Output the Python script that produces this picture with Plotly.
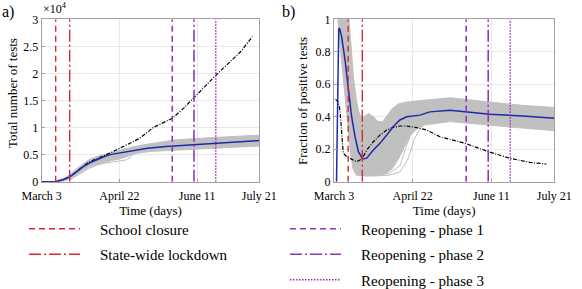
import plotly.graph_objects as go

# ---------------- data (days since March 3) ----------------
tick_days = [0, 50, 100, 140]
tick_labels = ["March 3", "April 22", "June 11", "July 21"]

events = ["School closure", "State-wide lockdown",
          "Reopening - phase 1", "Reopening - phase 2", "Reopening - phase 3"]
event_days = [9, 18, 84, 98, 112]

# Panel a: total number of tests
a_mean_days = [0, 9, 14, 18, 22.6, 26.8, 31, 35.5, 40, 44, 50, 57, 68, 80, 90, 100, 120, 140]
a_mean_vals = [0, 10, 400, 900, 1850, 2800, 3500, 4100, 4600, 5000, 5300, 5700, 6200, 6500, 6700, 6900, 7200, 7600]

a_data_days = [0, 9, 14, 18, 22.6, 26.8, 31, 35.5, 40, 44, 50.5, 57, 63, 72, 78, 84, 91.4, 97.8, 105.4, 112.5, 119.4, 128, 135.5]
a_data_vals = [0, 20, 350, 900, 1900, 2900, 3700, 4200, 4800, 5300, 6200, 7100, 8000, 10050, 10900, 11700, 13600, 15400, 17700, 19800, 21600, 24000, 26800]

a_band_up_days = [0, 8, 14, 18, 22, 26, 30, 35, 40, 45, 55, 65, 75, 85, 100, 120, 140]
a_band_up_vals = [0, 50, 600, 1300, 2300, 3200, 4000, 4600, 5000, 5400, 6200, 6800, 7300, 7700, 8000, 8300, 8600]
a_band_lo_days = [0, 14, 18, 22, 26, 30, 35, 40, 45, 52, 60, 70, 85, 100, 120, 140]
a_band_lo_vals = [0, 100, 500, 1200, 2000, 2700, 3200, 3600, 4000, 4400, 5200, 5600, 5900, 6100, 6300, 6600]

a_low_runs_days = [[18, 25, 30, 35, 40, 45, 50, 54, 58],
                   [18, 25, 30, 35, 40, 45, 50, 55, 60]]
a_low_runs_vals = [[300, 1500, 2400, 3000, 3400, 3600, 3800, 4000, 4600],
                   [400, 1700, 2600, 3200, 3600, 3900, 4200, 4600, 5100]]

# Panel b: fraction of positive tests
b_mean_days = [1.6, 2.3, 3.0, 3.5, 4.9, 7.0, 9.1, 11.2, 13.3, 15.5, 18.2, 20.8, 25, 29.2, 33.5, 37.7, 41.9, 46.2, 54.6, 61, 73.7, 85, 99, 120, 140]
b_mean_vals = [0.0, 0.60, 0.94, 0.945, 0.89, 0.75, 0.56, 0.40, 0.28, 0.185, 0.14, 0.145, 0.195, 0.236, 0.287, 0.34, 0.38, 0.40, 0.41, 0.43, 0.44, 0.43, 0.415, 0.405, 0.39]

b_data_days = [1.0, 2.8, 3.8, 4.9, 5.9, 8, 10.2, 12.3, 14.4, 16.5, 18.6, 20.8, 25, 29.2, 33.5, 37.7, 41.9, 46.2, 52.5, 58.9, 67.3, 83.5, 98, 111.8, 124.5, 135]
b_data_vals = [0.507, 0.49, 0.44, 0.28, 0.175, 0.155, 0.145, 0.133, 0.123, 0.133, 0.155, 0.195, 0.246, 0.287, 0.318, 0.335, 0.343, 0.343, 0.333, 0.318, 0.277, 0.236, 0.185, 0.144, 0.119, 0.109]

b_band_up_days = [2.5, 9.5, 10.5, 11.5, 12.5, 14, 15.5, 17, 19, 22, 25, 28, 31, 34, 37, 41, 46, 55, 74, 99, 120, 140]
b_band_up_vals = [1.0, 1.0, 0.88, 0.75, 0.63, 0.52, 0.44, 0.40, 0.40, 0.42, 0.40, 0.37, 0.37, 0.41, 0.45, 0.48, 0.49, 0.50, 0.517, 0.49, 0.47, 0.457]
b_band_lo_days = [2.5, 3.2, 5, 7, 9, 10.5, 12, 14, 20, 28, 33, 37, 41, 45, 49, 53, 58, 74, 99, 120, 140]
b_band_lo_vals = [1.0, 0.9, 0.72, 0.52, 0.33, 0.18, 0.08, 0.045, 0.035, 0.04, 0.05, 0.08, 0.14, 0.22, 0.29, 0.33, 0.35, 0.37, 0.35, 0.33, 0.314]

b_runs_days = [[14, 25, 35, 42, 46, 50, 54, 58, 65],
               [14, 25, 35, 42, 47, 51, 55, 60, 68],
               [12, 16, 20, 24, 28, 32, 36]]
b_runs_vals = [[0.05, 0.04, 0.05, 0.10, 0.22, 0.32, 0.36, 0.38, 0.40],
               [0.04, 0.035, 0.04, 0.06, 0.14, 0.26, 0.33, 0.37, 0.39],
               [0.45, 0.36, 0.38, 0.40, 0.37, 0.36, 0.41]]

# ---------------- styles ----------------
RED = "rgb(214,40,55)"
PURPLE = "rgb(142,55,190)"
PURPLE_L = "rgb(140,50,205)"
GRAY = "rgb(192,192,192)"
BLUE = "rgb(30,40,170)"
FONT = "Liberation Serif, DejaVu Serif, Times New Roman, serif"
ev_colors = [RED, RED, PURPLE, PURPLE, PURPLE_L]
ev_dash = ["6px,4px", "12px,3px,2px,3px", "6px,4px", "12px,3px,2px,3px", "1.5px,1.5px"]
ev_width = [1.4, 1.4, 1.6, 1.6, 1.4]
ev_legend = ["legend", "legend", "legend2", "legend2", "legend2"]

fig = go.Figure()

def band(days_up, vals_up, days_lo, vals_lo, xa, ya):
    fig.add_trace(go.Scatter(x=list(days_up) + list(days_lo)[::-1],
                             y=list(vals_up) + list(vals_lo)[::-1],
                             fill="toself", fillcolor=GRAY, mode="lines",
                             line=dict(color=GRAY, width=1), showlegend=False,
                             hoverinfo="skip", xaxis=xa, yaxis=ya))

# Panel a
band(a_band_up_days, a_band_up_vals, a_band_lo_days, a_band_lo_vals, "x", "y")
for d, v in zip(a_low_runs_days, a_low_runs_vals):
    fig.add_trace(go.Scatter(x=d, y=v, mode="lines", line=dict(color=GRAY, width=1),
                             showlegend=False, xaxis="x", yaxis="y"))
fig.add_trace(go.Scatter(x=a_data_days, y=a_data_vals, mode="lines",
                         line=dict(color="black", width=1.2, dash="4px,1.5px,1px,1.5px"),
                         showlegend=False, xaxis="x", yaxis="y"))
fig.add_trace(go.Scatter(x=a_mean_days, y=a_mean_vals, mode="lines",
                         line=dict(color=BLUE, width=1.5), showlegend=False, xaxis="x", yaxis="y"))

# Panel b
band(b_band_up_days, b_band_up_vals, b_band_lo_days, b_band_lo_vals, "x2", "y2")
for d, v in zip(b_runs_days, b_runs_vals):
    fig.add_trace(go.Scatter(x=d, y=v, mode="lines", line=dict(color=GRAY, width=1),
                             showlegend=False, xaxis="x2", yaxis="y2"))
fig.add_trace(go.Scatter(x=b_data_days, y=b_data_vals, mode="lines",
                         line=dict(color="black", width=1.2, dash="4px,1.5px,1px,1.5px"),
                         showlegend=False, xaxis="x2", yaxis="y2"))
fig.add_trace(go.Scatter(x=b_mean_days, y=b_mean_vals, mode="lines",
                         line=dict(color=BLUE, width=1.5), showlegend=False, xaxis="x2", yaxis="y2"))

# Event lines
A_TOP = 30000
B_TOP = 1
for i, (name, d) in enumerate(zip(events, event_days)):
    st = dict(color=ev_colors[i], width=ev_width[i], dash=ev_dash[i])
    fig.add_trace(go.Scatter(x=[d, d], y=[0, A_TOP], mode="lines", line=st,
                             name="\u2003" + name,
                             legendgroup=name, legend=ev_legend[i], showlegend=True,
                             xaxis="x", yaxis="y"))
    fig.add_trace(go.Scatter(x=[d, d], y=[0, B_TOP], mode="lines", line=st, name=name,
                             legendgroup=name, showlegend=False, xaxis="x2", yaxis="y2"))

W, H = 582, 289
def px_x(v):
    return v / W
def px_y(v):
    return 1 - v / H

axis_common = dict(showline=True, mirror=True, linecolor="rgb(160,160,160)", linewidth=1,
                   showgrid=True, gridcolor="rgb(232,232,232)", gridwidth=1,
                   ticks="inside", ticklen=3, tickcolor="rgb(160,160,160)", automargin=False,
                   tickfont=dict(family=FONT, size=12, color="black"), zeroline=False)

fig.update_layout(
    width=W, height=H, margin=dict(l=0, r=0, t=0, b=0, autoexpand=False),
    plot_bgcolor="white", paper_bgcolor="white",
    font=dict(family=FONT, color="black"),
    xaxis=dict(domain=[px_x(41.7), px_x(259.3)], range=[0, 140], tickvals=tick_days,
               ticktext=tick_labels, anchor="y", ticklabelstandoff=3,
               title=dict(text="Time (days)", font=dict(family=FONT, size=13), standoff=2),
               **axis_common),
    yaxis=dict(domain=[px_y(181.7), px_y(19.3)], range=[0, 30000],
               tickvals=[0, 5000, 10000, 15000, 20000, 25000, 30000],
               ticktext=["0", "0.5", "1", "1.5", "2", "2.5", "3"], anchor="x",
               **axis_common),
    xaxis2=dict(domain=[px_x(334), px_x(554.3)], range=[0, 140], tickvals=tick_days,
                ticktext=tick_labels, anchor="y2", ticklabelstandoff=3,
                title=dict(text="Time (days)", font=dict(family=FONT, size=13), standoff=2),
                **axis_common),
    yaxis2=dict(domain=[px_y(181.7), px_y(19.3)], range=[0, 1],
                tickvals=[0, 0.2, 0.4, 0.6, 0.8, 1], ticktext=["0", "0.2", "0.4", "0.6", "0.8", "1"],
                anchor="x2",
                **axis_common),
    legend=dict(x=px_x(24), y=px_y(212.5), xanchor="left", yanchor="top",
                font=dict(family=FONT, size=15, color="black"), itemwidth=51,
                bgcolor="rgba(0,0,0,0)", tracegroupgap=3),
    legend2=dict(x=px_x(285), y=px_y(212.5), xanchor="left", yanchor="top",
                 font=dict(family=FONT, size=15, color="black"), itemwidth=51,
                 bgcolor="rgba(0,0,0,0)", tracegroupgap=3),
    annotations=[
        dict(text="a)", x=0, y=px_y(1), xref="paper", yref="paper", xanchor="left", yanchor="top",
             showarrow=False, font=dict(family=FONT, size=16)),
        dict(text="b)", x=px_x(280), y=px_y(1), xref="paper", yref="paper", xanchor="left", yanchor="top",
             showarrow=False, font=dict(family=FONT, size=16)),
        dict(text="×10<sup>4</sup>", x=px_x(41), y=px_y(18), xref="paper", yref="paper",
             xanchor="left", yanchor="bottom", showarrow=False, font=dict(family=FONT, size=12)),
        dict(text="Total number of tests", x=px_x(12), y=px_y(93), xref="paper", yref="paper",
             xanchor="center", yanchor="middle", textangle=-90, showarrow=False,
             font=dict(family=FONT, size=13)),
        dict(text="Fraction of positive tests", x=px_x(302), y=px_y(101), xref="paper", yref="paper",
             xanchor="center", yanchor="middle", textangle=-90, showarrow=False,
             font=dict(family=FONT, size=13)),
    ],
)

fig.write_html("out.html", config={"displayModeBar": False},
               post_script="document.body.style.margin='0';")
